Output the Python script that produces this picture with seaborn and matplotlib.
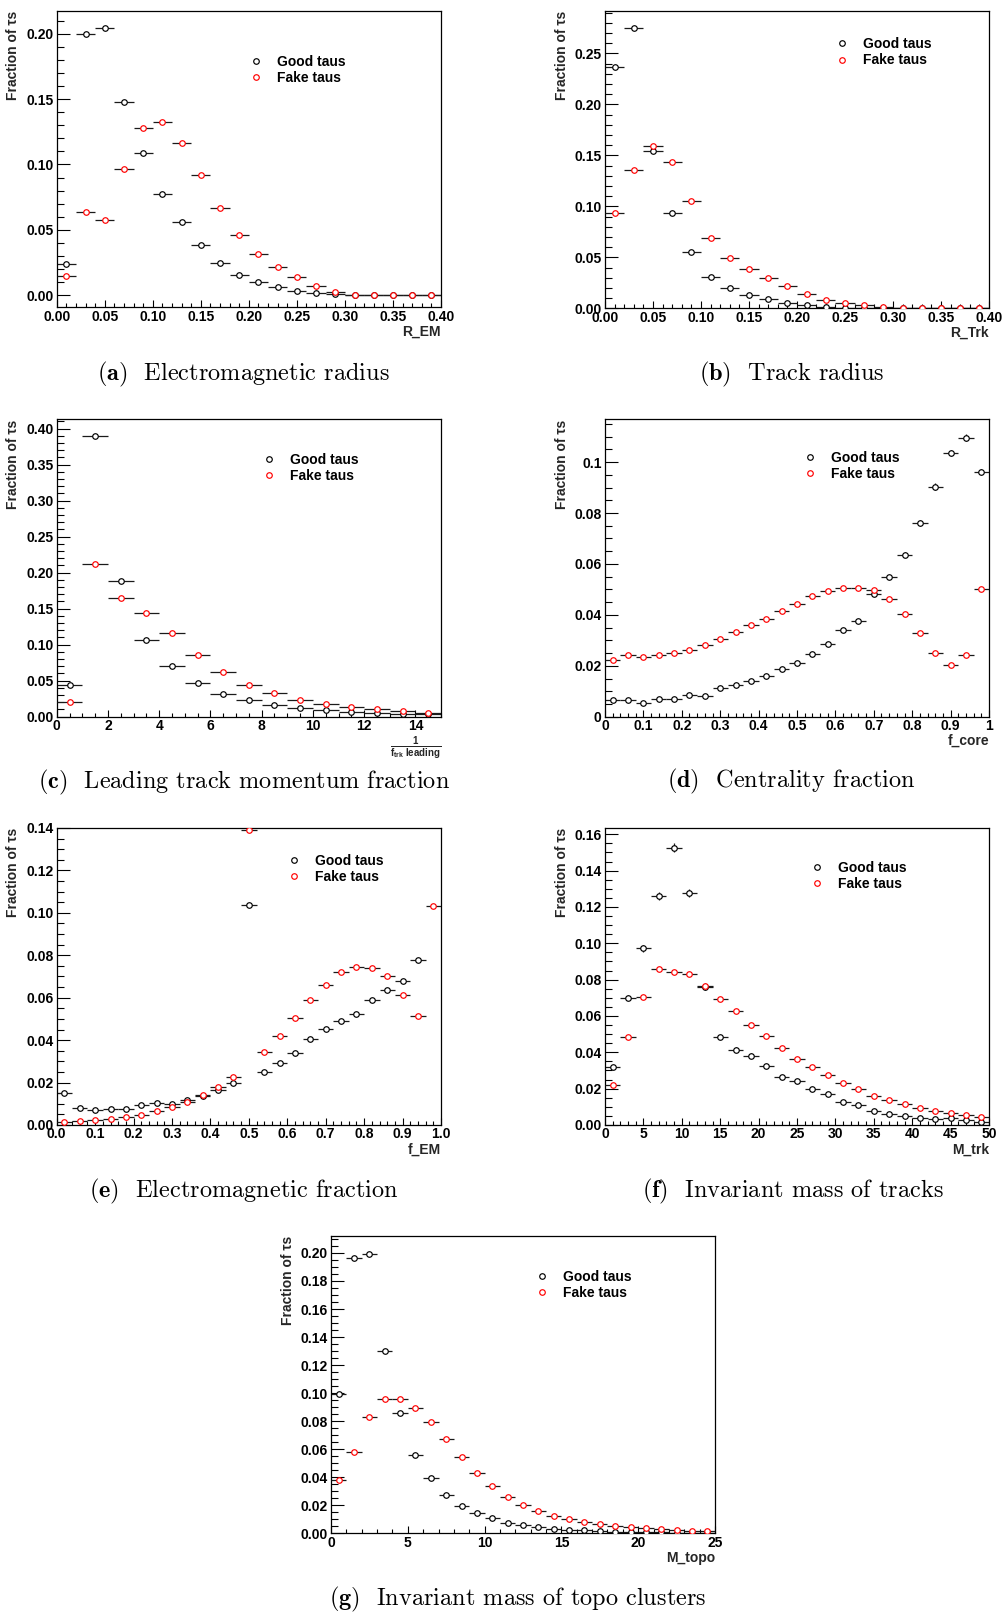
import numpy as np
import matplotlib
matplotlib.use("Agg")
import matplotlib.pyplot as plt
import seaborn as sns
from matplotlib.lines import Line2D
from matplotlib.ticker import MultipleLocator

# ---------------- data ----------------
LEGEND_LABELS = ["Good taus", "Fake taus"]
YLABEL = "Fraction of τs"

# (a) Electromagnetic radius
A_RANGE = (0.0, 0.40); A_NBINS = 20
A_GOOD = [0.0237, 0.1995, 0.2043, 0.1480, 0.1090, 0.0773, 0.0559, 0.0388, 0.0245, 0.0156,
          0.0099, 0.0064, 0.0033, 0.0015, 0.0008, 0.0003, 0.0001, 0.0001, 0.0000, 0.0000]
A_FAKE = [0.0151, 0.0633, 0.0577, 0.0962, 0.1276, 0.1327, 0.1163, 0.0916, 0.0668, 0.0464,
          0.0319, 0.0219, 0.0138, 0.0069, 0.0026, 0.0005, 0.0002, 0.0001, 0.0000, 0.0000]
A_XTICKS = [0.0, 0.05, 0.10, 0.15, 0.20, 0.25, 0.30, 0.35, 0.40]
A_XTICKLABELS = ["0.00", "0.05", "0.10", "0.15", "0.20", "0.25", "0.30", "0.35", "0.40"]
A_YTICKS = [0.0, 0.05, 0.10, 0.15, 0.20]
A_YTICKLABELS = ["0.00", "0.05", "0.10", "0.15", "0.20"]
A_XLABEL = "R_EM"
A_CAPTION = r"$\mathbf{(a)}$  Electromagnetic radius"

# (b) Track radius
B_RANGE = (0.0, 0.40); B_NBINS = 20
B_GOOD = [0.2369, 0.2752, 0.1539, 0.0931, 0.0552, 0.0310, 0.0196, 0.0127, 0.0088, 0.0056,
          0.0033, 0.0013, 0.0007, 0.0003, 0.0002, 0.0001, 0.0000, 0.0000, 0.0000, 0.0000]
B_FAKE = [0.0931, 0.1353, 0.1595, 0.1438, 0.1052, 0.0693, 0.0497, 0.0382, 0.0294, 0.0216,
          0.0141, 0.0085, 0.0052, 0.0029, 0.0013, 0.0003, 0.0001, 0.0000, 0.0000, 0.0000]
B_XTICKS = A_XTICKS
B_XTICKLABELS = A_XTICKLABELS
B_YTICKS = [0.0, 0.05, 0.10, 0.15, 0.20, 0.25]
B_YTICKLABELS = ["0.00", "0.05", "0.10", "0.15", "0.20", "0.25"]
B_XLABEL = "R_Trk"
B_CAPTION = r"$\mathbf{(b)}$  Track radius"

# (c) Leading track momentum fraction
C_RANGE = (0.0, 15.0); C_NBINS = 15
C_GOOD = [0.0444, 0.3898, 0.1889, 0.1065, 0.0708, 0.0468, 0.0319, 0.0231, 0.0162, 0.0116,
          0.0088, 0.0065, 0.0056, 0.0042, 0.0037]
C_FAKE = [0.0204, 0.2125, 0.1648, 0.1440, 0.1157, 0.0861, 0.0625, 0.0444, 0.0333, 0.0236,
          0.0176, 0.0130, 0.0102, 0.0079, 0.0056]
C_XTICKS = [0, 2, 4, 6, 8, 10, 12, 14]
C_XTICKLABELS = ["0", "2", "4", "6", "8", "10", "12", "14"]
C_YTICKS = [0.0, 0.05, 0.10, 0.15, 0.20, 0.25, 0.30, 0.35, 0.40]
C_YTICKLABELS = ["0.00", "0.05", "0.10", "0.15", "0.20", "0.25", "0.30", "0.35", "0.40"]
C_XLABEL = r"$\mathbf{\frac{1}{f_{trk}\ leading}}$"
C_CAPTION = r"$\mathbf{(c)}$  Leading track momentum fraction"

# (d) Centrality fraction
D_RANGE = (0.0, 1.0); D_NBINS = 25
D_GOOD = [0.0065, 0.0064, 0.0055, 0.0071, 0.0071, 0.0084, 0.0081, 0.0114, 0.0124, 0.0140,
          0.0160, 0.0188, 0.0212, 0.0246, 0.0284, 0.0342, 0.0376, 0.0483, 0.0548, 0.0637,
          0.0760, 0.0904, 0.1035, 0.1096, 0.0961]
D_GOOD_ERR = [0.0003, 0.0003, 0.0003, 0.0003, 0.0003, 0.0004, 0.0004, 0.0004, 0.0004, 0.0005,
              0.0005, 0.0005, 0.0006, 0.0006, 0.0007, 0.0007, 0.0008, 0.0009, 0.0009, 0.0010,
              0.0011, 0.0012, 0.0013, 0.0013, 0.0012]
D_FAKE = [0.0221, 0.0243, 0.0236, 0.0243, 0.0249, 0.0263, 0.0281, 0.0304, 0.0332, 0.0359,
          0.0385, 0.0416, 0.0442, 0.0475, 0.0492, 0.0505, 0.0505, 0.0499, 0.0462, 0.0402,
          0.0329, 0.0250, 0.0202, 0.0241, 0.0503]
D_XTICKS = [0.0, 0.1, 0.2, 0.3, 0.4, 0.5, 0.6, 0.7, 0.8, 0.9, 1.0]
D_XTICKLABELS = ["0", "0.1", "0.2", "0.3", "0.4", "0.5", "0.6", "0.7", "0.8", "0.9", "1"]
D_YTICKS = [0.0, 0.02, 0.04, 0.06, 0.08, 0.10]
D_YTICKLABELS = ["0", "0.02", "0.04", "0.06", "0.08", "0.1"]
D_XLABEL = "f_core"
D_CAPTION = r"$\mathbf{(d)}$  Centrality fraction"

# (e) Electromagnetic fraction
E_RANGE = (0.0, 1.0); E_NBINS = 25
E_GOOD = [0.0153, 0.0082, 0.0071, 0.0076, 0.0076, 0.0094, 0.0104, 0.0099, 0.0118, 0.0138,
          0.0164, 0.0200, 0.1035, 0.0249, 0.0294, 0.0338, 0.0404, 0.0451, 0.0492, 0.0524,
          0.0588, 0.0636, 0.0680, 0.0777, 0.2160]
E_FAKE = [0.0016, 0.0019, 0.0024, 0.0028, 0.0038, 0.0049, 0.0066, 0.0083, 0.0110, 0.0142,
          0.0179, 0.0227, 0.1391, 0.0346, 0.0420, 0.0505, 0.0590, 0.0661, 0.0719, 0.0744,
          0.0739, 0.0700, 0.0612, 0.0513, 0.1033]
E_XTICKS = [0.0, 0.1, 0.2, 0.3, 0.4, 0.5, 0.6, 0.7, 0.8, 0.9, 1.0]
E_XTICKLABELS = ["0.0", "0.1", "0.2", "0.3", "0.4", "0.5", "0.6", "0.7", "0.8", "0.9", "1.0"]
E_YTICKS = [0.0, 0.02, 0.04, 0.06, 0.08, 0.10, 0.12, 0.14]
E_YTICKLABELS = ["0.00", "0.02", "0.04", "0.06", "0.08", "0.10", "0.12", "0.14"]
E_XLABEL = "f_EM"
E_CAPTION = r"$\mathbf{(e)}$  Electromagnetic fraction"

# (f) Invariant mass of tracks
F_RANGE = (0.0, 50.0); F_NBINS = 25
F_GOOD = [0.0317, 0.0701, 0.0972, 0.1261, 0.1527, 0.1275, 0.0761, 0.0484, 0.0415, 0.0382,
          0.0327, 0.0264, 0.0240, 0.0196, 0.0171, 0.0125, 0.0112, 0.0075, 0.0059, 0.0051,
          0.0037, 0.0033, 0.0037, 0.0026, 0.0018]
F_GOOD_ERR = [0.0011, 0.0015, 0.0018, 0.0023, 0.0027, 0.0023, 0.0018, 0.0013, 0.0012, 0.0012,
              0.0011, 0.0010, 0.0009, 0.0008, 0.0008, 0.0007, 0.0006, 0.0005, 0.0004, 0.0004,
              0.0004, 0.0003, 0.0003, 0.0003, 0.0002]
F_FAKE = [0.0222, 0.0483, 0.0706, 0.0857, 0.0844, 0.0833, 0.0765, 0.0695, 0.0626, 0.0550,
          0.0492, 0.0426, 0.0365, 0.0321, 0.0273, 0.0231, 0.0196, 0.0161, 0.0136, 0.0116,
          0.0095, 0.0077, 0.0066, 0.0053, 0.0044]
F_XTICKS = [0, 5, 10, 15, 20, 25, 30, 35, 40, 45, 50]
F_XTICKLABELS = ["0", "5", "10", "15", "20", "25", "30", "35", "40", "45", "50"]
F_YTICKS = [0.0, 0.02, 0.04, 0.06, 0.08, 0.10, 0.12, 0.14, 0.16]
F_YTICKLABELS = ["0.00", "0.02", "0.04", "0.06", "0.08", "0.10", "0.12", "0.14", "0.16"]
F_XLABEL = "M_trk"
F_CAPTION = r"$\mathbf{(f)}$  Invariant mass of tracks"

# (g) Invariant mass of topo clusters
G_RANGE = (0.0, 25.0); G_NBINS = 25
G_GOOD = [0.0996, 0.1967, 0.1995, 0.1298, 0.0858, 0.0556, 0.0392, 0.0273, 0.0193, 0.0143,
          0.0107, 0.0076, 0.0057, 0.0043, 0.0031, 0.0024, 0.0021, 0.0014, 0.0012, 0.0010,
          0.0007, 0.0007, 0.0005, 0.0005, 0.0005]
G_FAKE = [0.0383, 0.0583, 0.0832, 0.0961, 0.0961, 0.0894, 0.0794, 0.0675, 0.0547, 0.0430,
          0.0340, 0.0262, 0.0202, 0.0159, 0.0126, 0.0100, 0.0081, 0.0069, 0.0055, 0.0048,
          0.0038, 0.0033, 0.0026, 0.0019, 0.0017]
G_XTICKS = [0, 5, 10, 15, 20, 25]
G_XTICKLABELS = ["0", "5", "10", "15", "20", "25"]
G_YTICKS = [0.0, 0.02, 0.04, 0.06, 0.08, 0.10, 0.12, 0.14, 0.16, 0.18, 0.20]
G_YTICKLABELS = ["0.00", "0.02", "0.04", "0.06", "0.08", "0.10", "0.12", "0.14", "0.16", "0.18", "0.20"]
G_XLABEL = "M_topo"
G_CAPTION = r"$\mathbf{(g)}$  Invariant mass of topo clusters"

# ---------------- style ----------------
sns.set_theme(style="white")
plt.rcParams.update({
    "font.weight": "bold",
    "axes.labelweight": "bold",
    "axes.edgecolor": "black",
    "axes.linewidth": 0.9,
    "mathtext.fontset": "custom",
    "mathtext.rm": "Liberation Sans",
    "mathtext.bf": "Liberation Sans:bold",
    "mathtext.it": "Liberation Sans:italic",
    "text.color": "black",
    "xtick.color": "black",
    "ytick.color": "black",
})
plt.rcParams["font.family"] = ["Liberation Sans", "DejaVu Sans"]

W, H = 1003, 1612
fig = plt.figure(figsize=(W / 100, H / 100), dpi=100)
fig.patch.set_facecolor("white")

GOOD_COLOR = "black"
FAKE_COLOR = "#ff0000"


def add_axes_px(left, top, right, bottom):
    return fig.add_axes([left / W, 1 - bottom / H, (right - left) / W, (bottom - top) / H])


def draw_panel(ax, rng, nbins, good, fake, good_err, xlim, ylim, xticks, xticklabels, xminor,
               yticks, yticklabels, yminor, xlabel, leg_xy, caption, cap_xy):
    edges = np.linspace(rng[0], rng[1], nbins + 1)
    centers = 0.5 * (edges[:-1] + edges[1:])
    halfw = 0.5 * (edges[1] - edges[0])
    z = 2
    for vals, err, col in ((good, good_err, GOOD_COLOR), (fake, None, FAKE_COLOR)):
        ax.errorbar(centers, vals, xerr=halfw, yerr=err, fmt="none", ecolor="#1a1a1a",
                    elinewidth=0.9, capsize=0, zorder=z)
        sns.scatterplot(x=centers, y=vals, ax=ax, marker="o", s=16, facecolor="white",
                        edgecolor=col, color=col, linewidth=0.85, zorder=z + 1, legend=False)
        z += 2
    ax.set_xlim(*xlim)
    ax.set_ylim(*ylim)
    ax.set_xticks(xticks, labels=xticklabels)
    ax.set_yticks(yticks, labels=yticklabels)
    ax.xaxis.set_minor_locator(MultipleLocator(xminor))
    ax.yaxis.set_minor_locator(MultipleLocator(yminor))
    ax.tick_params(axis="y", which="major", direction="in", length=9.4, width=0.8, pad=2.4,
                   labelsize=10, left=True, right=False)
    ax.tick_params(axis="y", which="minor", direction="in", length=5.0, width=0.8,
                   left=True, right=False)
    ax.tick_params(axis="x", which="major", direction="in", length=5.0, width=0.8, pad=1.8,
                   labelsize=10, bottom=True, top=False)
    ax.tick_params(axis="x", which="minor", direction="in", length=2.9, width=0.8,
                   bottom=True, top=False)
    for sp in ax.spines.values():
        sp.set_visible(True)
        sp.set_color("black")
        sp.set_linewidth(0.9)
    ax.set_ylabel(YLABEL, loc="top", fontsize=10)
    ax.yaxis.set_label_coords(-0.095, 1.0)
    ax.set_xlabel(xlabel, loc="right", fontsize=10)
    ax.xaxis.set_label_coords(1.0, -0.058)
    handles = [Line2D([], [], ls="none", marker="o", ms=4.0, mfc="white", mec=GOOD_COLOR, mew=0.85),
               Line2D([], [], ls="none", marker="o", ms=4.0, mfc="white", mec=FAKE_COLOR, mew=0.85)]
    ax.legend(handles, LEGEND_LABELS, loc="center left", bbox_to_anchor=leg_xy, frameon=False,
              handlelength=1.0, handletextpad=1.0, borderpad=0, borderaxespad=0,
              labelspacing=0.15, fontsize=10)
    fig.text(cap_xy[0] / W, 1 - cap_xy[1] / H, caption, ha="center", va="baseline",
             family="cmr10", weight="normal", math_fontfamily="cm", fontsize=17.5)


panels = [
    dict(box=(56.7, 10.7, 441, 307.3), rng=A_RANGE, nbins=A_NBINS, good=A_GOOD, fake=A_FAKE, good_err=None,
         xlim=(0, 0.40), ylim=(-0.0092, 0.2176), xticks=A_XTICKS, xticklabels=A_XTICKLABELS, xminor=0.01,
         yticks=A_YTICKS, yticklabels=A_YTICKLABELS, yminor=0.01, xlabel=A_XLABEL, leg=(0.500, 0.801),
         caption=A_CAPTION, cap=(243.7, 380)),
    dict(box=(605, 10.7, 989, 308.3), rng=B_RANGE, nbins=B_NBINS, good=B_GOOD, fake=B_FAKE, good_err=None,
         xlim=(0, 0.40), ylim=(0, 0.2918), xticks=B_XTICKS, xticklabels=B_XTICKLABELS, xminor=0.01,
         yticks=B_YTICKS, yticklabels=B_YTICKLABELS, yminor=0.01, xlabel=B_XLABEL, leg=(0.600, 0.860),
         caption=B_CAPTION, cap=(792, 380)),
    dict(box=(56.7, 419.3, 441, 716.7), rng=C_RANGE, nbins=C_NBINS, good=C_GOOD, fake=C_FAKE, good_err=None,
         xlim=(0, 15), ylim=(0, 0.413), xticks=C_XTICKS, xticklabels=C_XTICKLABELS, xminor=0.5,
         yticks=C_YTICKS, yticklabels=C_YTICKLABELS, yminor=0.01, xlabel=C_XLABEL, leg=(0.534, 0.8365),
         caption=C_CAPTION, cap=(243.7, 788)),
    dict(box=(605, 419.3, 989, 716.7), rng=D_RANGE, nbins=D_NBINS, good=D_GOOD, fake=D_FAKE, good_err=D_GOOD_ERR,
         xlim=(0, 1), ylim=(0, 0.1168), xticks=D_XTICKS, xticklabels=D_XTICKLABELS, xminor=0.02,
         yticks=D_YTICKS, yticklabels=D_YTICKLABELS, yminor=0.005, xlabel=D_XLABEL, leg=(0.516, 0.8425),
         caption=D_CAPTION, cap=(791.5, 787)),
    dict(box=(56.7, 827.7, 441, 1125), rng=E_RANGE, nbins=E_NBINS, good=E_GOOD, fake=E_FAKE, good_err=None,
         xlim=(0, 1), ylim=(0, 0.1401), xticks=E_XTICKS, xticklabels=E_XTICKLABELS, xminor=0.02,
         yticks=E_YTICKS, yticklabels=E_YTICKLABELS, yminor=0.005, xlabel=E_XLABEL, leg=(0.599, 0.8605),
         caption=E_CAPTION, cap=(244, 1197)),
    dict(box=(605, 827.7, 989, 1125), rng=F_RANGE, nbins=F_NBINS, good=F_GOOD, fake=F_FAKE, good_err=F_GOOD_ERR,
         xlim=(0, 50), ylim=(0, 0.1636), xticks=F_XTICKS, xticklabels=F_XTICKLABELS, xminor=1,
         yticks=F_YTICKS, yticklabels=F_YTICKLABELS, yminor=0.005, xlabel=F_XLABEL, leg=(0.534, 0.8365),
         caption=F_CAPTION, cap=(792.5, 1197)),
    dict(box=(331, 1236, 715, 1533.3), rng=G_RANGE, nbins=G_NBINS, good=G_GOOD, fake=G_FAKE, good_err=None,
         xlim=(0, 25), ylim=(0, 0.2121), xticks=G_XTICKS, xticklabels=G_XTICKLABELS, xminor=1,
         yticks=G_YTICKS, yticklabels=G_YTICKLABELS, yminor=0.005, xlabel=G_XLABEL, leg=(0.531, 0.8365),
         caption=G_CAPTION, cap=(518, 1605)),
]

for p in panels:
    ax = add_axes_px(*p["box"])
    ax.set_facecolor("white")
    draw_panel(ax, p["rng"], p["nbins"], p["good"], p["fake"], p["good_err"], p["xlim"], p["ylim"],
               p["xticks"], p["xticklabels"], p["xminor"], p["yticks"], p["yticklabels"], p["yminor"],
               p["xlabel"], p["leg"], p["caption"], p["cap"])

fig.savefig("out.png", dpi=100, facecolor="white")
